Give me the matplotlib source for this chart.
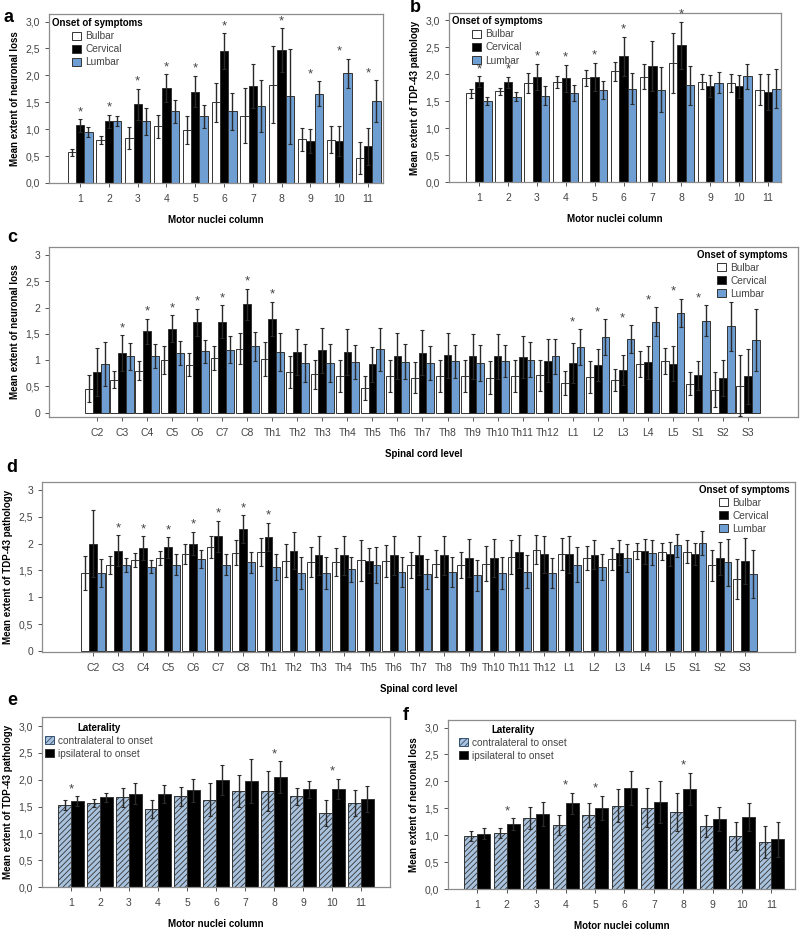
import matplotlib
matplotlib.use("Agg")
import matplotlib.pyplot as plt
from matplotlib.patches import Patch
from matplotlib.ticker import FuncFormatter
import numpy as np

plt.rcParams['font.family'] = ['Liberation Sans', 'DejaVu Sans']
plt.rcParams['hatch.linewidth'] = 0.6

# ---- panel a: neuronal loss per motor nuclei column, by onset ----
cols = [str(i) for i in range(1, 12)]
a_bulbar = [0.57, 0.80, 0.84, 1.05, 0.98, 1.50, 1.25, 1.83, 0.81, 0.80, 0.47]
a_bulbar_err = [0.06, 0.08, 0.20, 0.21, 0.26, 0.36, 0.51, 0.72, 0.22, 0.25, 0.30]
a_cervical = [1.07, 1.15, 1.46, 1.76, 1.70, 2.45, 1.81, 2.47, 0.78, 0.78, 0.68]
a_cervical_err = [0.12, 0.12, 0.29, 0.26, 0.29, 0.33, 0.41, 0.41, 0.23, 0.27, 0.35]
a_lumbar = [0.95, 1.15, 1.15, 1.33, 1.24, 1.33, 1.43, 1.61, 1.66, 2.04, 1.52]
a_lumbar_err = [0.09, 0.10, 0.25, 0.22, 0.21, 0.34, 0.49, 0.88, 0.23, 0.27, 0.39]
a_stars = [1, 2, 3, 4, 5, 6, 8, 9, 10, 11]

# ---- panel b: TDP-43 per motor nuclei column, by onset ----
b_bulbar = [1.64, 1.68, 1.83, 1.86, 1.92, 2.05, 1.95, 2.20, 1.86, 1.83, 1.71]
b_bulbar_err = [0.08, 0.07, 0.18, 0.11, 0.15, 0.18, 0.23, 0.56, 0.14, 0.17, 0.29]
b_cervical = [1.86, 1.85, 1.95, 1.92, 1.95, 2.33, 2.15, 2.53, 1.78, 1.77, 1.67]
b_cervical_err = [0.10, 0.10, 0.24, 0.25, 0.26, 0.36, 0.47, 0.44, 0.20, 0.22, 0.33]
b_lumbar = [1.50, 1.58, 1.60, 1.65, 1.70, 1.73, 1.71, 1.79, 1.84, 1.96, 1.73]
b_lumbar_err = [0.08, 0.08, 0.18, 0.15, 0.17, 0.28, 0.42, 0.36, 0.19, 0.23, 0.36]
b_stars = [1, 2, 3, 4, 5, 6, 8]

# ---- panel c: neuronal loss per spinal cord level, by onset ----
levels = ['C2', 'C3', 'C4', 'C5', 'C6', 'C7', 'C8',
          'Th1', 'Th2', 'Th3', 'Th4', 'Th5', 'Th6', 'Th7', 'Th8', 'Th9', 'Th10', 'Th11', 'Th12',
          'L1', 'L2', 'L3', 'L4', 'L5', 'S1', 'S2', 'S3']
c_bulbar = [0.46, 0.63, 0.80, 1.00, 0.91, 1.04, 1.22, 1.02, 0.78, 0.73, 0.70, 0.47, 0.70, 0.67,
            0.70, 0.70, 0.67, 0.70, 0.71, 0.56, 0.68, 0.62, 0.93, 0.99, 0.55, 0.44, 0.51]
c_bulbar_err = [0.26, 0.16, 0.18, 0.26, 0.22, 0.23, 0.29, 0.33, 0.30, 0.28, 0.30, 0.23, 0.30, 0.30,
                0.30, 0.30, 0.31, 0.30, 0.29, 0.23, 0.30, 0.21, 0.25, 0.25, 0.22, 0.33, 0.58]
c_cervical = [0.78, 1.14, 1.55, 1.60, 1.72, 1.73, 2.06, 1.78, 1.15, 1.19, 1.15, 0.92, 1.08, 1.14,
              1.09, 1.07, 1.07, 1.06, 0.99, 0.95, 0.91, 0.81, 0.96, 0.93, 0.71, 0.66, 0.69]
c_cervical_err = [0.46, 0.34, 0.24, 0.25, 0.26, 0.31, 0.30, 0.33, 0.44, 0.43, 0.44, 0.33, 0.43, 0.43,
                  0.42, 0.42, 0.42, 0.39, 0.41, 0.38, 0.31, 0.29, 0.31, 0.33, 0.27, 0.35, 0.53]
c_lumbar = [0.92, 1.07, 1.08, 1.13, 1.17, 1.20, 1.26, 1.16, 0.94, 0.94, 0.97, 1.21, 0.97, 0.95,
            0.98, 0.95, 0.98, 1.01, 1.07, 1.25, 1.44, 1.40, 1.73, 1.90, 1.75, 1.64, 1.38]
c_lumbar_err = [0.42, 0.26, 0.22, 0.23, 0.22, 0.25, 0.28, 0.36, 0.36, 0.36, 0.32, 0.41, 0.33, 0.32,
                0.31, 0.34, 0.30, 0.33, 0.33, 0.34, 0.34, 0.27, 0.28, 0.27, 0.29, 0.47, 0.59]
c_stars = ['C3', 'C4', 'C5', 'C6', 'C7', 'C8', 'Th1', 'L1', 'L2', 'L3', 'L4', 'L5', 'S1']

# ---- panel d: TDP-43 per spinal cord level, by onset ----
d_bulbar = [1.45, 1.60, 1.69, 1.73, 1.81, 1.94, 1.83, 1.85, 1.68, 1.65, 1.65, 1.69, 1.68, 1.60,
            1.63, 1.60, 1.63, 1.75, 1.89, 1.81, 1.73, 1.71, 1.86, 1.85, 1.85, 1.60, 1.34]
d_bulbar_err = [0.32, 0.17, 0.13, 0.13, 0.19, 0.20, 0.23, 0.26, 0.31, 0.28, 0.26, 0.38, 0.30, 0.24,
                0.25, 0.24, 0.33, 0.32, 0.27, 0.30, 0.23, 0.20, 0.15, 0.16, 0.21, 0.29, 0.37]
d_cervical = [2.00, 1.87, 1.92, 1.93, 2.00, 2.14, 2.27, 2.13, 1.87, 1.78, 1.78, 1.68, 1.78, 1.78,
              1.78, 1.73, 1.73, 1.85, 1.80, 1.80, 1.79, 1.83, 1.86, 1.81, 1.81, 1.73, 1.68]
d_cervical_err = [0.63, 0.29, 0.22, 0.19, 0.22, 0.29, 0.26, 0.26, 0.34, 0.36, 0.36, 0.23, 0.36, 0.36,
                  0.36, 0.36, 0.36, 0.31, 0.34, 0.34, 0.27, 0.23, 0.23, 0.23, 0.21, 0.31, 0.43]
d_lumbar = [1.45, 1.60, 1.57, 1.61, 1.71, 1.61, 1.65, 1.57, 1.45, 1.45, 1.52, 1.60, 1.48, 1.43,
            1.48, 1.41, 1.46, 1.48, 1.46, 1.61, 1.57, 1.73, 1.83, 1.97, 2.01, 1.65, 1.43]
d_lumbar_err = [0.26, 0.13, 0.12, 0.19, 0.17, 0.19, 0.20, 0.24, 0.30, 0.30, 0.23, 0.34, 0.28, 0.28,
                0.28, 0.29, 0.30, 0.31, 0.28, 0.33, 0.24, 0.26, 0.23, 0.21, 0.23, 0.44, 0.45]
d_stars = ['C3', 'C4', 'C5', 'C6', 'C7', 'C8', 'Th1']

# ---- panel e: TDP-43 by laterality ----
e_contra = [1.53, 1.57, 1.67, 1.46, 1.69, 1.63, 1.79, 1.79, 1.69, 1.38, 1.56]
e_contra_err = [0.09, 0.08, 0.17, 0.17, 0.18, 0.31, 0.30, 0.38, 0.16, 0.25, 0.24]
e_ipsi = [1.60, 1.67, 1.74, 1.73, 1.80, 1.99, 1.98, 2.05, 1.82, 1.83, 1.64]
e_ipsi_err = [0.09, 0.08, 0.20, 0.17, 0.21, 0.28, 0.41, 0.30, 0.16, 0.19, 0.25]
e_stars = [1, 8, 10]

# ---- panel f: neuronal loss by laterality ----
f_contra = [0.99, 1.04, 1.32, 1.19, 1.38, 1.55, 1.51, 1.43, 1.17, 0.98, 0.87]
f_contra_err = [0.09, 0.09, 0.21, 0.18, 0.22, 0.31, 0.36, 0.35, 0.20, 0.26, 0.30]
f_ipsi = [1.03, 1.21, 1.39, 1.59, 1.51, 1.88, 1.61, 1.86, 1.30, 1.33, 0.92]
f_ipsi_err = [0.10, 0.11, 0.22, 0.20, 0.22, 0.32, 0.39, 0.30, 0.22, 0.26, 0.32]
f_stars = [2, 4, 5, 8]

WHITE = 'white'
BLACK = 'black'
BLUE = '#6e9ed2'
HATCHBLUE = '#a9c3df'
GREY = '#555555'
FRAME = '#8c8c8c'


def comma(v, pos, one_dec):
    if one_dec:
        return f"{v:.1f}".replace('.', ',')
    s = f"{v:g}"
    return s.replace('.', ',')


def style_axes(ax, ylim, xlim, xticklabels, xpos, one_dec, ylabel, xlabel):
    ax.set_ylim(*ylim)
    ax.set_xlim(*xlim)
    ax.set_yticks(np.arange(0, 3.01, 0.5))
    ax.yaxis.set_major_formatter(FuncFormatter(lambda v, p: comma(v, p, one_dec)))
    ax.set_xticks(xpos)
    ax.set_xticklabels(xticklabels)
    for sp in ax.spines.values():
        sp.set_color(FRAME)
        sp.set_linewidth(0.9)
    ax.tick_params(axis='both', colors=GREY, labelcolor='#444444', labelsize=7.5,
                   length=3, width=0.7, direction='out')
    ax.tick_params(axis='x', pad=5)
    ax.set_ylabel(ylabel, fontsize=7, fontweight='bold', labelpad=4)
    ax.set_xlabel(xlabel, fontsize=7, fontweight='bold', labelpad=8)


def draw_bars(ax, xpos, series, width):
    n = len(series)
    tops = np.zeros(len(xpos))
    for k, (vals, errs, fc, hatch) in enumerate(series):
        off = (k - (n - 1) / 2) * width
        ax.bar(xpos + off, vals, width, color=fc, edgecolor='#333333', linewidth=0.7,
               hatch=hatch, zorder=2)
        ax.errorbar(xpos + off, vals, yerr=errs, fmt='none', ecolor='#2a2a2a',
                    elinewidth=1.0, capsize=1.5, capthick=0.8, zorder=3)
        tops = np.maximum(tops, np.array(vals) + np.array(errs))
    return tops


def add_stars(ax, xpos, tops, labels, starred):
    for lab in starred:
        i = labels.index(str(lab))
        ax.text(xpos[i], tops[i] + 0.13, '*', ha='center', va='center',
                fontsize=9.5, color='#444444')


LEG_KW = dict(frameon=False, fontsize=7.3, handlelength=0.9, handleheight=0.9,
              handletextpad=0.4, labelspacing=0.3, borderpad=0.1, borderaxespad=0.15)


def style_legend(leg):
    leg.get_title().set_fontweight('bold')
    leg.get_title().set_fontsize(7.0)
    for t in leg.get_texts():
        t.set_color('#444444')


def onset_legend(ax, **kw):
    handles = [Patch(facecolor=WHITE, edgecolor='#333333', linewidth=0.7),
               Patch(facecolor=BLACK, edgecolor='#333333', linewidth=0.7),
               Patch(facecolor=BLUE, edgecolor='#333333', linewidth=0.7)]
    leg = ax.legend(handles, ['Bulbar', 'Cervical', 'Lumbar'], title='Onset of symptoms',
                    **LEG_KW, **kw)
    style_legend(leg)


def side_legend(ax, **kw):
    handles = [Patch(facecolor=HATCHBLUE, edgecolor='#34506e', hatch='//////', linewidth=0.7),
               Patch(facecolor=BLACK, edgecolor='#333333', linewidth=0.7)]
    leg = ax.legend(handles, ['contralateral to onset', 'ipsilateral to onset'],
                    title='Laterality', **LEG_KW, **kw)
    style_legend(leg)


fig = plt.figure(figsize=(8, 9.3), dpi=100)
W, H = 800, 930


def add_ax(x0, y0, x1, y1):
    return fig.add_axes([x0 / W, 1 - y1 / H, (x1 - x0) / W, (y1 - y0) / H])


# panel a
ax = add_ax(49, 14, 383, 183)
xp = np.arange(1, 12)
tops = draw_bars(ax, xp, [(a_bulbar, a_bulbar_err, WHITE, None),
                          (a_cervical, a_cervical_err, BLACK, None),
                          (a_lumbar, a_lumbar_err, BLUE, None)], 0.29)
add_stars(ax, xp, tops, cols, a_stars)
style_axes(ax, (0, 3.14), (-0.08, 11.52), cols, xp, True,
           'Mean extent of neuronal loss', 'Motor nuclei column')
onset_legend(ax, loc='upper left', bbox_to_anchor=(0.0, 0.99))

# panel b
ax = add_ax(449, 13, 781, 182)
tops = draw_bars(ax, xp, [(b_bulbar, b_bulbar_err, WHITE, None),
                          (b_cervical, b_cervical_err, BLACK, None),
                          (b_lumbar, b_lumbar_err, BLUE, None)], 0.29)
add_stars(ax, xp, tops, cols, b_stars)
style_axes(ax, (0, 3.13), (-0.04, 11.45), cols, xp, True,
           'Mean extent of TDP-43 pathology', 'Motor nuclei column')
onset_legend(ax, loc='upper left', bbox_to_anchor=(0.0, 0.995))

# panel c
ax = add_ax(49, 247, 798, 417)
xl = np.arange(len(levels))
tops = draw_bars(ax, xl, [(c_bulbar, c_bulbar_err, WHITE, None),
                          (c_cervical, c_cervical_err, BLACK, None),
                          (c_lumbar, c_lumbar_err, BLUE, None)], 0.31)
add_stars(ax, xl, tops, levels, c_stars)
style_axes(ax, (-0.08, 3.15), (-1.92, 28.0), levels, xl, False,
           'Mean extent of neuronal loss', 'Spinal cord level')
onset_legend(ax, loc='upper right', bbox_to_anchor=(0.989, 1.0))

# panel d
ax = add_ax(42, 482, 795, 652)
tops = draw_bars(ax, xl, [(d_bulbar, d_bulbar_err, WHITE, None),
                          (d_cervical, d_cervical_err, BLACK, None),
                          (d_lumbar, d_lumbar_err, BLUE, None)], 0.31)
add_stars(ax, xl, tops, levels, d_stars)
style_axes(ax, (-0.02, 3.15), (-2.03, 28.0), levels, xl, False,
           'Mean extent of TDP-43 pathology', 'Spinal cord level')
onset_legend(ax, loc='upper right', bbox_to_anchor=(0.996, 1.0))

# panel e
ax = add_ax(42, 717, 390, 887)
tops = draw_bars(ax, xp, [(e_contra, e_contra_err, HATCHBLUE, '//////'),
                          (e_ipsi, e_ipsi_err, BLACK, None)], 0.44)
add_stars(ax, xp, tops, cols, e_stars)
style_axes(ax, (0, 3.17), (0, 12), cols, xp, True,
           'Mean extent of TDP-43 pathology', 'Motor nuclei column')
side_legend(ax, loc='upper left', bbox_to_anchor=(0.0, 0.982))

# panel f
ax = add_ax(448, 720, 795, 889)
tops = draw_bars(ax, xp, [(f_contra, f_contra_err, HATCHBLUE, '//////'),
                          (f_ipsi, f_ipsi_err, BLACK, None)], 0.44)
add_stars(ax, xp, tops, cols, f_stars)
style_axes(ax, (0, 3.14), (0, 11.8), cols, xp, True,
           'Mean extent of neuronal loss', 'Motor nuclei column')
side_legend(ax, loc='upper left', bbox_to_anchor=(0.025, 0.988))

# panel letters
for letter, (px, py) in zip('abcdef', [(8, 18), (415, 7), (12, 237), (12, 468), (12, 700), (406, 715)]):
    fig.text(px / W, 1 - py / H, letter, fontsize=13, fontweight='bold', ha='center', va='center')

fig.savefig('out.png', dpi=100)
